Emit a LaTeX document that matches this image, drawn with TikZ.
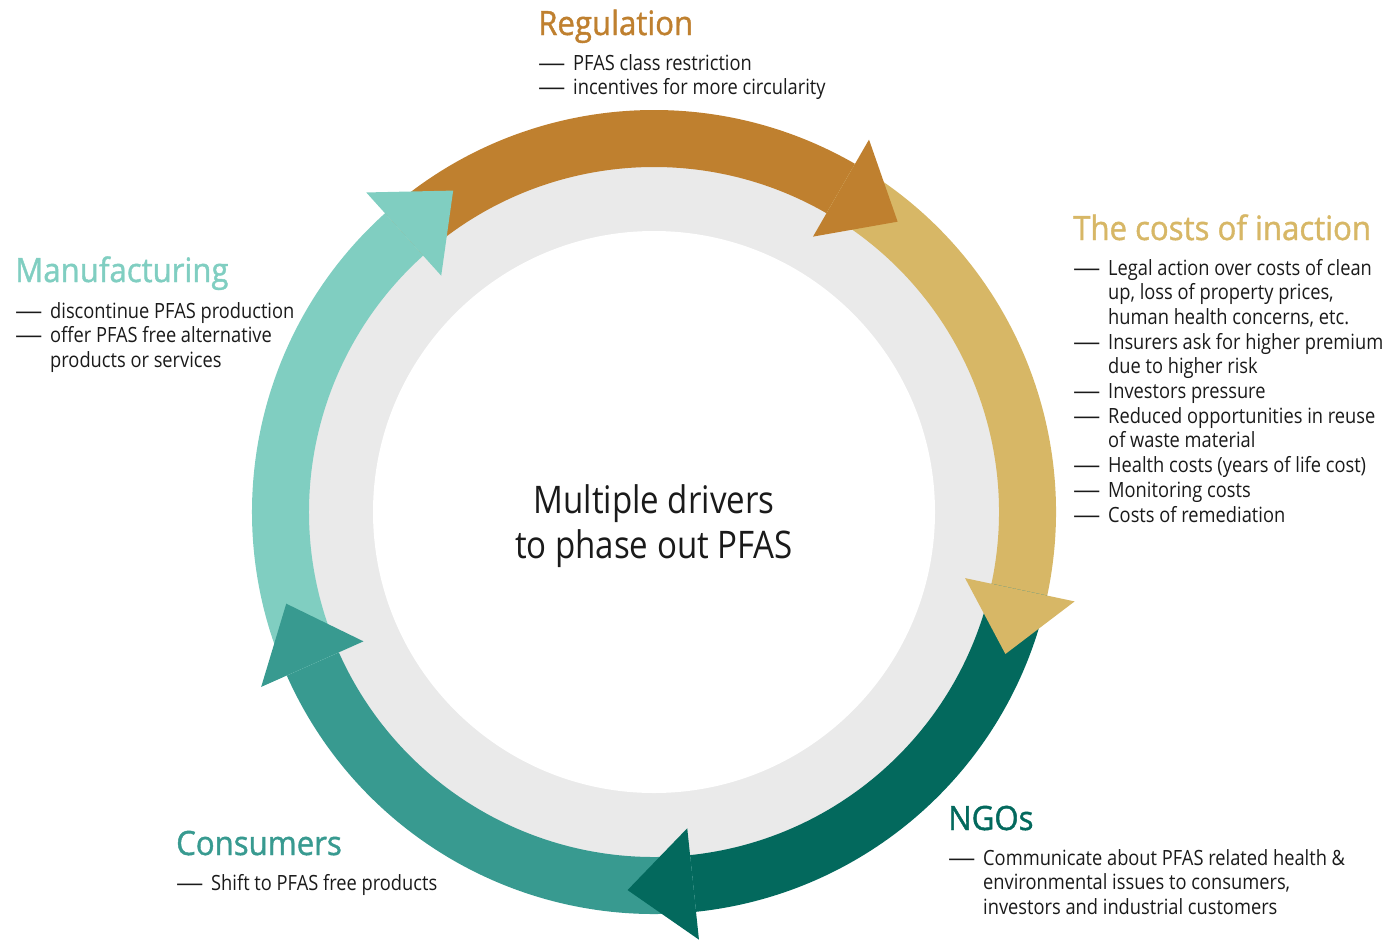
\documentclass[tikz,border=0pt]{standalone}
\usepackage{fontspec}
\usepackage{graphicx}
\setmainfont[FakeStretch=0.87]{Open Sans}
\newfontfamily\ttlfont[FakeStretch=0.93, FakeBold=1.2]{Open Sans}
\usetikzlibrary{positioning}
\definecolor{cReg}{HTML}{BF802F}
\definecolor{cCost}{HTML}{D7B766}
\definecolor{cNgo}{HTML}{03695D}
\definecolor{cCons}{HTML}{389A90}
\definecolor{cManu}{HTML}{80CEC1}
\definecolor{cRing}{HTML}{EAEAEA}
\definecolor{cText}{HTML}{1A1A1A}
% one band of the cycle, colour / from / to
\newcommand{\cycband}[3]{\fill[#1] ({#2}:402pt) arc[start angle={#2}, end angle={#3}, radius=402pt]
  -- ({#3}:345pt) arc[start angle={#3}, end angle={#2}, radius=345pt] -- cycle;}
% arrow head, colour / base angle
\newcommand{\cychead}[2]{\fill[#1] ({#2}:430pt) -- ({#2-10}:379pt) -- ({#2}:318pt) -- cycle;}
\newcommand{\dsh}{\makebox[35pt][l]{\scalebox{1.5}[1]{—}}}

\begin{document}
\begin{tikzpicture}[x=1pt, y=1pt,
    ttl/.style={font=\ttlfont\fontsize{33.5}{36}\selectfont, inner sep=0pt, anchor=base west},
    lst/.style={font=\fontsize{21}{24.7}\selectfont, text=cText, inner sep=0pt, anchor=base west}]
  \useasboundingbox (0,0) rectangle (1383,-940);

  % ring and arrows
  \begin{scope}[shift={(654,-512)}]
    \fill[cRing] (0,0) circle[radius=350pt];
    \fill[white] (0,0) circle[radius=281pt];
    \foreach \c/\a in {cReg/132, cCost/60, cNgo/-12, cCons/-84, cManu/-156}
      {\cycband{\c}{\a}{\a-72}}
    \foreach \c/\a in {cReg/60, cCost/-12, cNgo/-84, cCons/-156, cManu/-228}
      {\cychead{\c}{\a}}
  \end{scope}

  \node[font=\fontsize{38}{45}\selectfont, text=cText, align=center] (mid) at (654,-526)
    {Multiple drivers\\to phase out PFAS};

  % regulation
  \node[ttl, text=cReg] (regT) at (538,-35) {Regulation};
  \node[lst] (regL) at (538,-70) {\begin{tabular}[t]{@{}l@{}l@{}}
    \dsh & PFAS class restriction\\
    \dsh & incentives for more circularity
  \end{tabular}};

  % costs of inaction
  \node[ttl, text=cCost] (costT) at (1073,-240) {The costs of inaction};
  \node[lst] (costL) at (1073,-275) {\begin{tabular}[t]{@{}l@{}l@{}}
    \dsh & Legal action over costs of clean\\
         & up, loss of property prices,\\
         & human health concerns, etc.\\
    \dsh & Insurers ask for higher premium\\
         & due to higher risk\\
    \dsh & Investors pressure\\
    \dsh & Reduced opportunities in reuse\\
         & of waste material\\
    \dsh & Health costs (years of life cost)\\
    \dsh & Monitoring costs\\
    \dsh & Costs of remediation
  \end{tabular}};

  % NGOs
  \node[ttl, text=cNgo] (ngoT) at (948,-830) {NGOs};
  \node[lst] (ngoL) at (948,-865) {\begin{tabular}[t]{@{}l@{}l@{}}
    \dsh & Communicate about PFAS related health \&\\
         & environmental issues to consumers,\\
         & investors and industrial customers
  \end{tabular}};

  % consumers
  \node[ttl, text=cCons] (consT) at (176,-855) {Consumers};
  \node[lst] (consL) at (176,-890) {\begin{tabular}[t]{@{}l@{}l@{}}
    \dsh & Shift to PFAS free products
  \end{tabular}};

  % manufacturing
  \node[ttl, text=cManu] (manuT) at (15,-282) {Manufacturing};
  \node[lst] (manuL) at (15,-318) {\begin{tabular}[t]{@{}l@{}l@{}}
    \dsh & discontinue PFAS production\\
    \dsh & offer PFAS free alternative\\
         & products or services
  \end{tabular}};
\end{tikzpicture}
\end{document}
